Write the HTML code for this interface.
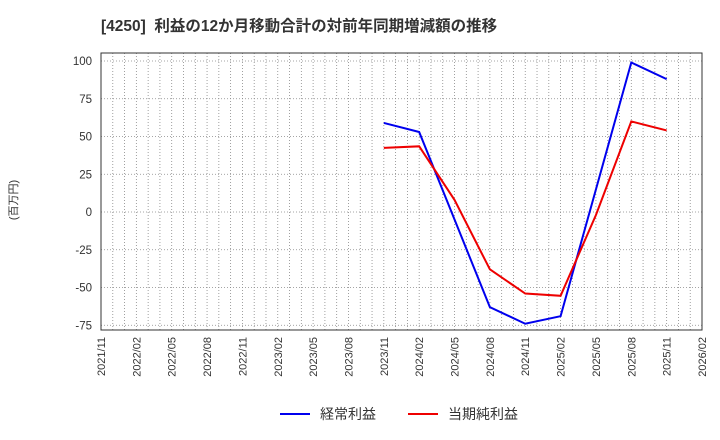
<!DOCTYPE html><html><head><meta charset="utf-8"><style>body{margin:0;background:#fff}svg{display:block}text{font-family:"Liberation Sans","Noto Sans CJK JP",sans-serif}</style></head><body>
<svg id="s" width="720" height="440" xmlns="http://www.w3.org/2000/svg">
<text x="101" y="31" font-size="15.5" font-weight="bold" fill="#333" style="white-space:pre">[4250]  利益の12か月移動合計の対前年同期増減額の推移</text>
<text transform="translate(17,200) rotate(-90)" font-size="11" fill="#333" text-anchor="middle">(百万円)</text>
<g id="g"></g>
<line x1="280" y1="414" x2="310" y2="414" stroke="#0000ee" stroke-width="2"/>
<text x="320" y="419" font-size="14" fill="#333">経常利益</text>
<line x1="408" y1="414" x2="438" y2="414" stroke="#ee0000" stroke-width="2"/>
<text x="448" y="419" font-size="14" fill="#333">当期純利益</text>
</svg>
<script>
var g=document.getElementById('g'),h='';
var L=101,R=702,T=53,B=330,dx=(R-L)/51;
function Y(v){return 212-v*37.75/25;}
for(var i=1;i<51;i++){var x=L+i*dx;h+='<line x1="'+x+'" y1="'+T+'" x2="'+x+'" y2="'+B+'" stroke="#888" stroke-width="0.8" stroke-dasharray="1,2"/>';}
[100,75,50,25,0,-25,-50,-75].forEach(function(v){var y=Y(v);h+='<line x1="'+L+'" y1="'+y+'" x2="'+R+'" y2="'+y+'" stroke="#888" stroke-width="0.8" stroke-dasharray="1,2"/><text x="92" y="'+(y+4)+'" font-size="11.5" fill="#333" text-anchor="end">'+v+'</text>';});
var labs=['2021/11','2022/02','2022/05','2022/08','2022/11','2023/02','2023/05','2023/08','2023/11','2024/02','2024/05','2024/08','2024/11','2025/02','2025/05','2025/08','2025/11','2026/02'];
labs.forEach(function(t,i){var x=L+i*dx*3;h+='<text transform="translate('+(x+4)+',337) rotate(-90)" font-size="11" fill="#333" text-anchor="end">'+t+'</text>';});
h+='<rect x="'+L+'" y="'+T+'" width="'+(R-L)+'" height="'+(B-T)+'" fill="none" stroke="#333" stroke-width="1"/>';
function P(d,c){var p=d.map(function(v,i){return (L+(8+i)*dx*3)+','+Y(v)}).join(' ');h+='<polyline points="'+p+'" fill="none" stroke="'+c+'" stroke-width="2"/>';}
P([59,53,-5,-63,-74,-69,15,99,88],'#0000ee');
P([42.5,43.5,8,-38,-54,-55.5,-2,60,54],'#ee0000');
g.innerHTML=h;
</script>
</body></html>
